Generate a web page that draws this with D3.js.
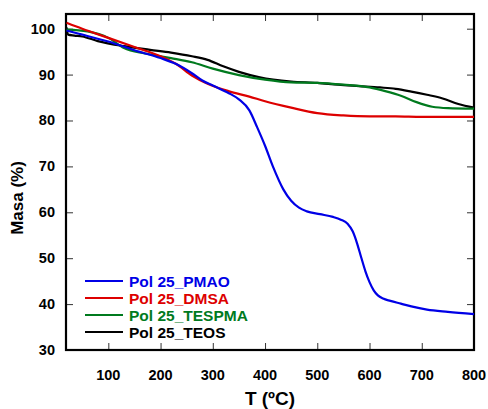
<!DOCTYPE html>
<html>
<head>
<meta charset="utf-8">
<script src="https://cdn.jsdelivr.net/npm/d3@7"></script>
<style>
  body { margin: 0; background: #fff; }
  text { font-family: "Liberation Sans", Arial, sans-serif; font-weight: bold; }
</style>
</head>
<body>
<div id="chart-area"></div>
<script>
// Data
const seriesNames = ["Pol 25_PMAO", "Pol 25_DMSA", "Pol 25_TESPMA", "Pol 25_TEOS"]
const seriesColors = ["#0000e6", "#dd0000", "#007a1e", "#000000"]

const pmaoT = [20, 40, 100, 150, 200, 230, 260, 280, 300, 330, 350, 370, 385, 400, 415, 435, 450, 465, 480, 505, 530, 545, 558, 568, 576, 584, 592, 600, 608, 616, 626, 640, 660, 680, 710, 750, 800]
const pmaoM = [99.6, 99.0, 97.2, 95.3, 93.6, 92.3, 90.3, 88.7, 87.6, 86.0, 84.6, 82.2, 78.5, 74.5, 70.0, 65.0, 62.5, 61.0, 60.2, 59.6, 59.0, 58.4, 57.5, 55.8, 53.3, 50.2, 47.2, 44.8, 43.0, 41.9, 41.2, 40.7, 40.1, 39.5, 38.8, 38.3, 37.8]

const dmsaT = [20, 50, 100, 150, 200, 230, 260, 290, 330, 370, 400, 450, 500, 550, 600, 650, 700, 800]
const dmsaM = [101.3, 100.0, 98.0, 96.0, 94.0, 92.3, 89.8, 88.0, 86.4, 85.2, 84.2, 82.8, 81.6, 81.1, 80.9, 80.9, 80.8, 80.8]

const tespmaT = [20, 60, 100, 130, 170, 220, 260, 300, 350, 400, 450, 500, 550, 600, 630, 660, 690, 720, 750, 800]
const tespmaM = [99.8, 99.4, 98.0, 95.8, 94.6, 93.6, 92.7, 91.3, 89.9, 88.9, 88.3, 88.2, 87.8, 87.2, 86.4, 85.4, 84.0, 83.0, 82.7, 82.6]

const teosT = [20, 23, 35, 50, 80, 130, 180, 220, 260, 290, 320, 350, 390, 450, 500, 540, 580, 620, 650, 680, 710, 740, 770, 800]
const teosM = [100.3, 98.7, 98.5, 98.3, 97.3, 96.2, 95.4, 94.8, 94.0, 93.2, 91.8, 90.6, 89.4, 88.5, 88.2, 87.8, 87.5, 87.2, 86.9, 86.3, 85.6, 84.8, 83.6, 82.8]

const xTicks = [100, 200, 300, 400, 500, 600, 700, 800]
const yTicks = [30, 40, 50, 60, 70, 80, 90, 100]

// Config
const margin = {top: 14, right: 14, bottom: 59, left: 66}
const width = 488 - margin.left - margin.right, height = 409 - margin.top - margin.bottom

const svg = d3.select("#chart-area")
  .append("svg")
    .attr("width", 488)
    .attr("height", 409)
const g = svg.append("g")
    .attr("transform", "translate(" + margin.left + ", " + margin.top + ")")

// Scales
const x = d3.scaleLinear().domain([19, 800]).range([0, width])
const y = d3.scaleLinear().domain([30, 103.2]).range([height, 0])

// Axis (ticks point inward)
const tickLen = 7
g.append("g").attr("class", "x axis")
  .attr("transform", "translate(0, " + height + ")")
  .call(d3.axisTop(x).tickValues(xTicks).tickSize(tickLen).tickFormat(""))
g.append("g").attr("class", "x axis top")
  .call(d3.axisBottom(x).tickValues(xTicks).tickSize(tickLen).tickFormat(""))
g.append("g").attr("class", "y axis")
  .call(d3.axisRight(y).tickValues(yTicks).tickSize(tickLen).tickFormat(""))
g.append("g").attr("class", "y axis right")
  .attr("transform", "translate(" + width + ", 0)")
  .call(d3.axisLeft(y).tickValues(yTicks).tickSize(tickLen).tickFormat(""))
g.selectAll(".axis path").remove()
g.selectAll(".axis line").style("stroke", "#333").style("stroke-width", 1)

// Tick labels
g.append("g").selectAll("text").data(xTicks).join("text")
  .attr("x", d => x(d))
  .attr("y", height + 30)
  .attr("text-anchor", "middle")
  .style("font-size", "14.5px")
  .text(d => d)
g.append("g").selectAll("text").data(yTicks).join("text")
  .attr("x", -11)
  .attr("y", d => y(d) + 5)
  .attr("text-anchor", "end")
  .style("font-size", "14.5px")
  .text(d => d)

// Frame
g.append("rect")
  .attr("width", width).attr("height", height)
  .attr("fill", "none").attr("stroke", "#000").attr("stroke-width", 2.2)

// Lines
const series = [
  {T: pmaoT, M: pmaoM},
  {T: dmsaT, M: dmsaM},
  {T: tespmaT, M: tespmaM},
  {T: teosT, M: teosM}
]
const line = d3.line().x(d => x(d[0])).y(d => y(d[1])).curve(d3.curveMonotoneX)

// draw back to front so the blue sits on top like the original
series.map((s, i) => i).reverse().forEach(i => {
  const pts = series[i].T.map((t, k) => [t, series[i].M[k]])
  g.append("path")
    .attr("fill", "none")
    .attr("stroke", seriesColors[i])
    .attr("stroke-width", 2.2)
    .attr("d", line(pts))
})

// Legend
const legend = g.append("g").attr("transform", "translate(19, 267)")
seriesNames.forEach((name, i) => {
  const row = legend.append("g").attr("transform", "translate(0, " + (i * 17) + ")")
  row.append("line")
    .attr("x1", 0).attr("x2", 38)
    .attr("stroke", seriesColors[i]).attr("stroke-width", 2)
  row.append("text")
    .attr("x", 44).attr("y", 5.5)
    .attr("fill", seriesColors[i])
    .style("font-size", "15.5px")
    .text(name)
})

// Axis titles
svg.append("text")
  .attr("x", 270).attr("y", 405)
  .attr("text-anchor", "middle")
  .style("font-size", "19px")
  .text("T (ºC)")
svg.append("text")
  .attr("transform", "translate(23, 198) rotate(-90)")
  .attr("text-anchor", "middle")
  .style("font-size", "17px")
  .text("Masa (%)")
</script>
</body>
</html>
